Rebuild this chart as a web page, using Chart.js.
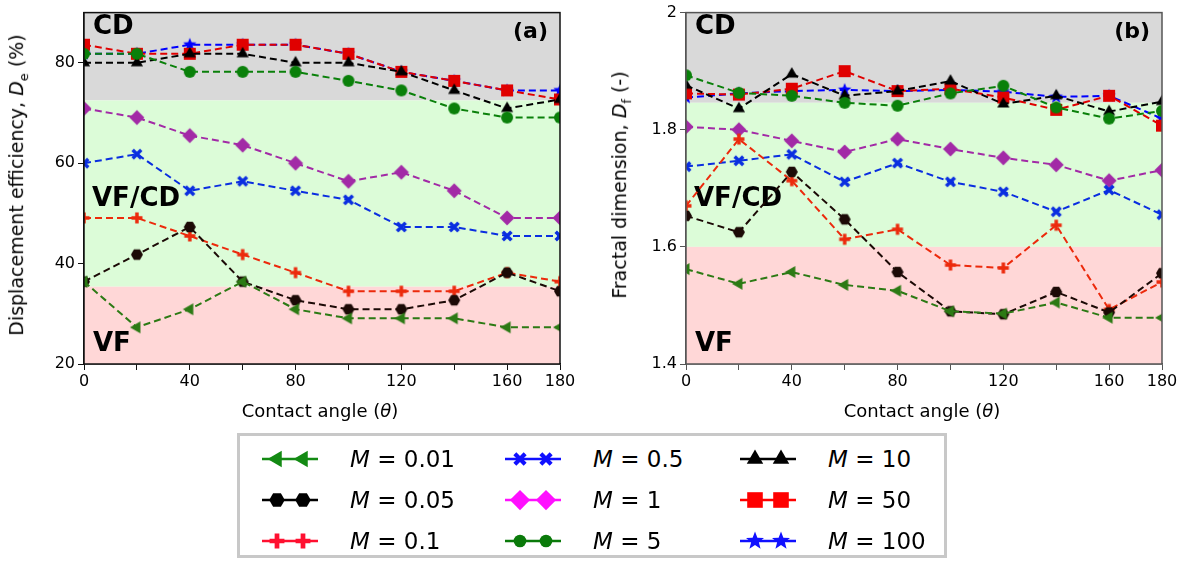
<!DOCTYPE html>
<html lang="en">
<head>
<meta charset="UTF-8">
<title>Displacement efficiency and fractal dimension</title>
<script src="https://cdn.jsdelivr.net/npm/chart.js@4"></script>
<style>
  body { margin: 0; background: #fff; font-family: "DejaVu Sans", sans-serif; }
  #wrap { position: relative; width: 1190px; height: 562px; overflow: hidden; }
  canvas.plot { position: absolute; top: 0; }
  .ytitle { position: absolute; font-size: 19px; white-space: nowrap; transform: translate(-50%, -50%) rotate(-90deg); }
  .xtitle { position: absolute; font-size: 18px; white-space: nowrap; transform: translate(-50%, -50%); }
  sub { font-size: 13px; }
  #legend { position: absolute; left: 237px; top: 433px; width: 704px; height: 119px; border: 3px solid #c8c8c8; }
  .item { position: absolute; display: flex; align-items: center; font-size: 23px; white-space: nowrap; height: 30px; }
  .item canvas { margin-right: 32px; }
</style>
</head>
<body>
<div id="wrap">
  <canvas id="chartA" class="plot" width="580" height="410" style="left:0"></canvas>
  <canvas id="chartB" class="plot" width="590" height="410" style="left:600px"></canvas>
  <div class="ytitle" style="left:18px; top:185px">Displacement efficiency, <i>D</i><sub>e</sub> (%)</div>
  <div class="ytitle" style="left:621px; top:185px">Fractal dimension, <i>D</i><sub>f</sub> (-)</div>
  <div class="xtitle" style="left:320px; top:410px">Contact angle (<i>θ</i>)</div>
  <div class="xtitle" style="left:922px; top:410px">Contact angle (<i>θ</i>)</div>
  <div id="legend"></div>
</div>

<script>
  // contact angles (x values)
  const angles = [0, 20, 40, 60, 80, 100, 120, 140, 160, 180];
  const xTickLabels = [0, 40, 80, 120, 160, 180];
  const mobility = ['0.01', '0.05', '0.1', '0.5', '1', '5', '10', '50', '100'];

  // (a) displacement efficiency, %
  const de001 = [36.4, 27.3, 30.9, 36.4, 30.9, 29.1, 29.1, 29.1, 27.3, 27.3];
  const de005 = [36.4, 41.8, 47.3, 36.4, 32.7, 30.9, 30.9, 32.7, 38.2, 34.5];
  const de01  = [49.1, 49.1, 45.5, 41.8, 38.2, 34.5, 34.5, 34.5, 38.2, 36.4];
  const de05  = [60.0, 61.8, 54.5, 56.4, 54.5, 52.7, 47.3, 47.3, 45.5, 45.5];
  const de1   = [70.9, 69.1, 65.5, 63.6, 60.0, 56.4, 58.2, 54.5, 49.1, 49.1];
  const de5   = [81.8, 81.8, 78.2, 78.2, 78.2, 76.4, 74.5, 70.9, 69.1, 69.1];
  const de10  = [80.0, 80.0, 81.8, 81.8, 80.0, 80.0, 78.2, 74.5, 70.9, 72.7];
  const de50  = [83.6, 81.8, 81.8, 83.6, 83.6, 81.8, 78.2, 76.4, 74.5, 72.7];
  const de100 = [81.8, 81.8, 83.6, 83.6, 83.6, 81.8, 78.2, 76.4, 74.5, 74.5];

  // (b) fractal dimension
  const df001 = [1.562, 1.537, 1.557, 1.535, 1.525, 1.490, 1.486, 1.505, 1.479, 1.479];
  const df005 = [1.653, 1.625, 1.728, 1.647, 1.557, 1.490, 1.485, 1.523, 1.488, 1.555];
  const df01  = [1.670, 1.784, 1.713, 1.613, 1.630, 1.569, 1.564, 1.637, 1.493, 1.540];
  const df05  = [1.737, 1.747, 1.758, 1.711, 1.743, 1.711, 1.694, 1.660, 1.697, 1.655];
  const df1   = [1.805, 1.800, 1.781, 1.762, 1.784, 1.767, 1.752, 1.740, 1.713, 1.731];
  const df5   = [1.893, 1.863, 1.858, 1.846, 1.841, 1.862, 1.875, 1.838, 1.819, 1.832];
  const df10  = [1.876, 1.836, 1.895, 1.858, 1.866, 1.883, 1.844, 1.858, 1.831, 1.848];
  const df50  = [1.862, 1.860, 1.870, 1.900, 1.866, 1.870, 1.855, 1.834, 1.858, 1.807];
  const df100 = [1.855, 1.862, 1.866, 1.868, 1.866, 1.868, 1.865, 1.856, 1.858, 1.819];

  // y ticks
  const deTicks = [20, 40, 60, 80];
  const dfTicks = [1.4, 1.6, 1.8, 2.0];

  // flow regime limits
  const bandsA = [{from: 72.5, to: 90, label: 'CD'}, {from: 35.4, to: 72.5, label: 'VF/CD'}, {from: 20, to: 35.4, label: 'VF'}];
  const bandsB = [{from: 1.846, to: 2.0, label: 'CD'}, {from: 1.6, to: 1.846, label: 'VF/CD'}, {from: 1.4, to: 1.6, label: 'VF'}];

  const deSeries = [de001, de005, de01, de05, de1, de5, de10, de50, de100];
  const dfSeries = [df001, df005, df01, df05, df1, df5, df10, df50, df100];

  // marker style per mobility ratio
  const styles = [
    {kind: 'triLeft', color: '#2c7a14', legend: '#138a13', ls: 1.35},
    {kind: 'hex', color: '#1c0a06', legend: '#000000', ls: 1.3},
    {kind: 'plus', color: '#ec2a0c', legend: '#ff1030', ls: 1.35},
    {kind: 'x', color: '#0a2ee0', legend: '#1010ff', ls: 1.2},
    {kind: 'diamond', color: '#a22aa6', legend: '#ff10ff', ls: 1.35},
    {kind: 'circle', color: '#0a800a', legend: '#0a7a0a', ls: 1.05},
    {kind: 'tri', color: '#000000', legend: '#000000', ls: 1.35},
    {kind: 'square', color: '#e00000', legend: '#ff0000', ls: 1.3},
    {kind: 'star', color: '#0000ff', legend: '#1010ff', ls: 1.35}
  ];
  const bandColors = ['#d9d9d9', '#dcfcd8', '#ffd7d7'];

  function drawMarker(ctx, kind, x, y, color, s) {
    s = s || 1;
    ctx.fillStyle = color;
    ctx.strokeStyle = color;
    ctx.beginPath();
    if (kind === 'triLeft') {
      const r = 7 * s;
      ctx.moveTo(x - r, y);
      ctx.lineTo(x + r / 2, y - r * 0.87);
      ctx.lineTo(x + r / 2, y + r * 0.87);
      ctx.closePath(); ctx.fill();
    } else if (kind === 'tri') {
      const r = 7 * s;
      ctx.moveTo(x, y - r);
      ctx.lineTo(x + r * 0.87, y + r / 2);
      ctx.lineTo(x - r * 0.87, y + r / 2);
      ctx.closePath(); ctx.fill();
    } else if (kind === 'hex') {
      const r = 6 * s;
      for (let i = 0; i < 6; i++) {
        const a = i * Math.PI / 3;
        ctx.lineTo(x + r * Math.cos(a), y + r * Math.sin(a));
      }
      ctx.closePath(); ctx.fill();
    } else if (kind === 'plus') {
      const r = 5.5 * s;
      ctx.lineWidth = 3.5 * s;
      ctx.moveTo(x - r, y); ctx.lineTo(x + r, y);
      ctx.moveTo(x, y - r); ctx.lineTo(x, y + r);
      ctx.stroke();
    } else if (kind === 'x') {
      const r = 4.3 * s;
      ctx.lineWidth = 3.5 * s;
      ctx.moveTo(x - r, y - r); ctx.lineTo(x + r, y + r);
      ctx.moveTo(x + r, y - r); ctx.lineTo(x - r, y + r);
      ctx.stroke();
    } else if (kind === 'diamond') {
      const r = 7.5 * s;
      ctx.moveTo(x, y - r); ctx.lineTo(x + r, y); ctx.lineTo(x, y + r); ctx.lineTo(x - r, y);
      ctx.closePath(); ctx.fill();
    } else if (kind === 'circle') {
      ctx.arc(x, y, 6 * s, 0, Math.PI * 2); ctx.fill();
    } else if (kind === 'square') {
      const r = 6 * s;
      ctx.rect(x - r, y - r, 2 * r, 2 * r); ctx.fill();
    } else if (kind === 'star') {
      const ro = 7 * s, ri = 3 * s;
      for (let i = 0; i < 10; i++) {
        const a = -Math.PI / 2 + i * Math.PI / 5;
        const r = i % 2 ? ri : ro;
        ctx.lineTo(x + r * Math.cos(a), y + r * Math.sin(a));
      }
      ctx.closePath(); ctx.fill();
    }
  }

  function icon(kind, color) {
    const c = document.createElement('canvas');
    c.width = 18; c.height = 18;
    drawMarker(c.getContext('2d'), kind, 9, 9, color);
    return c;
  }

  const regimePlugin = {
    id: 'regimes',
    beforeDatasetsDraw(chart, args, opts) {
      const {ctx, chartArea: ca, scales: {y}} = chart;
      ctx.save();
      opts.bands.forEach((b, i) => {
        const top = y.getPixelForValue(b.to), bot = y.getPixelForValue(b.from);
        ctx.fillStyle = bandColors[i];
        ctx.fillRect(ca.left, top, ca.right - ca.left, bot - top);
      });
      ctx.fillStyle = '#000';
      ctx.textBaseline = 'middle';
      ctx.font = 'bold 26px "DejaVu Sans"';
      ctx.fillText(opts.bands[0].label, ca.left + 9, ca.top + 15);
      ctx.fillText(opts.bands[1].label, ca.left + 8, ca.top + 187);
      ctx.fillText(opts.bands[2].label, ca.left + 9, ca.top + 332);
      ctx.font = 'bold 22px "DejaVu Sans"';
      ctx.textAlign = 'right';
      ctx.fillText(opts.tag, ca.right - 12, ca.top + 20);
      ctx.restore();
    },
    afterDatasetsDraw(chart, args, opts) {
      const {ctx, chartArea: ca} = chart;
      ctx.save();
      ctx.strokeStyle = opts.frame;
      ctx.lineWidth = 1.5;
      ctx.strokeRect(ca.left, ca.top, ca.right - ca.left, ca.bottom - ca.top);
      ctx.restore();
    }
  };

  function makeChart(id, series, yMin, yMax, yTicks, bands, tag, frame, yWidth, padRight) {
    const datasets = series.map((vals, i) => ({
      label: 'M = ' + mobility[i],
      data: angles.map((a, k) => ({x: a, y: vals[k]})),
      borderColor: styles[i].color,
      borderWidth: 2,
      borderDash: [7, 4],
      pointStyle: icon(styles[i].kind, styles[i].color),
      fill: false
    }));
    return new Chart(document.getElementById(id), {
      type: 'line',
      data: {datasets},
      plugins: [regimePlugin],
      options: {
        responsive: false,
        animation: false,
        devicePixelRatio: 1,
        layout: {padding: {top: 10, right: padRight, left: 0, bottom: 0}},
        plugins: {
          legend: {display: false},
          tooltip: {enabled: false},
          regimes: {bands, tag, frame}
        },
        scales: {
          x: {
            type: 'linear', min: 0, max: 180,
            afterBuildTicks: s => { s.ticks = angles.map(a => ({value: a})); },
            afterFit: s => { s.height = 46; },
            ticks: {
              autoSkip: false, maxRotation: 0, color: '#000', padding: 2,
              font: {family: 'DejaVu Sans', size: 16},
              callback: v => xTickLabels.includes(v) ? String(v) : ''
            },
            grid: {drawOnChartArea: false, tickLength: 6, color: frame},
            border: {color: frame, width: 1.5}
          },
          y: {
            min: yMin, max: yMax,
            afterBuildTicks: s => { s.ticks = yTicks.map(v => ({value: v})); },
            afterFit: s => { s.width = yWidth; },
            ticks: {
              color: '#000', padding: 3, font: {family: 'DejaVu Sans', size: 16},
              callback: v => String(v)
            },
            grid: {drawOnChartArea: false, tickLength: 6, color: frame},
            border: {color: frame, width: 1.5}
          }
        }
      }
    });
  }

  makeChart('chartA', deSeries, 20, 90, deTicks, bandsA, '(a)', '#111', 84, 20);
  makeChart('chartB', dfSeries, 1.4, 2.0, dfTicks, bandsB, '(b)', '#555', 86, 28);

  // legend, three columns filled top to bottom
  const legend = document.getElementById('legend');
  const colX = [22, 265, 500];
  const rowY = [8, 49, 90];
  mobility.forEach((m, i) => {
    const st = styles[i];
    const div = document.createElement('div');
    div.className = 'item';
    div.style.left = colX[Math.floor(i / 3)] + 'px';
    div.style.top = rowY[i % 3] + 'px';
    const c = document.createElement('canvas');
    c.width = 56; c.height = 26;
    const g = c.getContext('2d');
    g.strokeStyle = st.legend; g.lineWidth = 2.5;
    g.beginPath(); g.moveTo(0, 13); g.lineTo(56, 13); g.stroke();
    drawMarker(g, st.kind, 15, 13, st.legend, st.ls);
    drawMarker(g, st.kind, 41, 13, st.legend, st.ls);
    const span = document.createElement('span');
    span.innerHTML = '<i>M</i> = ' + m;
    div.appendChild(c);
    div.appendChild(span);
    legend.appendChild(div);
  });
</script>
</body>
</html>
